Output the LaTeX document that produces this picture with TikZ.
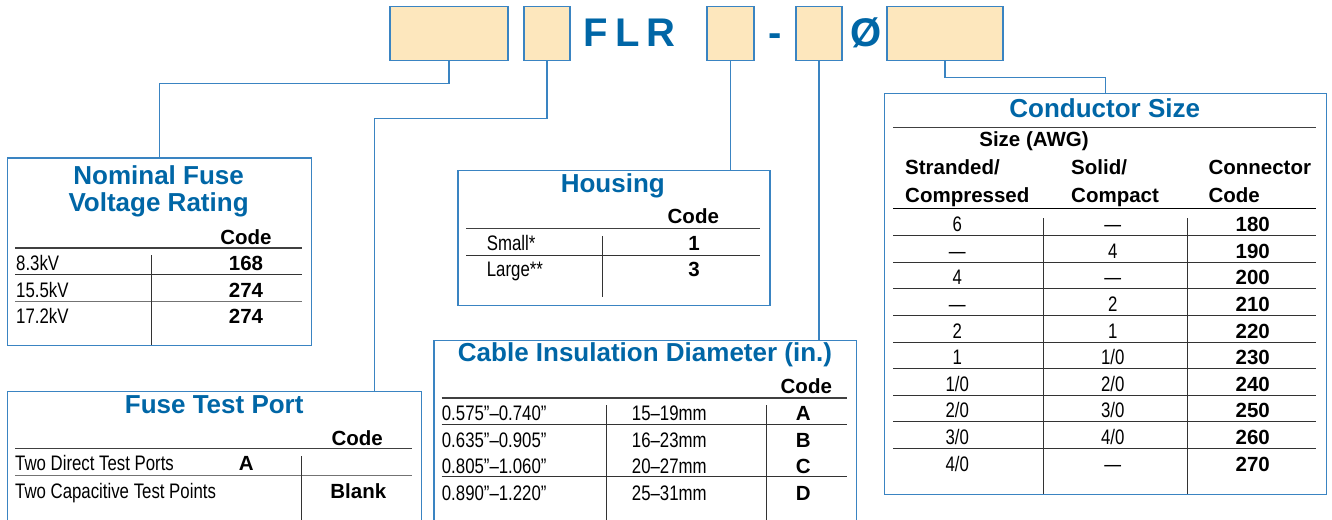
\documentclass[tikz,border=0pt]{standalone}
\usepackage{fontspec}
\setmainfont{Liberation Sans}
\newfontfamily\condfont{Liberation Sans}[FakeStretch=0.8]
\usetikzlibrary{calc}
\definecolor{fuseblue}{RGB}{0,102,166}
\definecolor{edgeblue}{RGB}{58,132,194}
\definecolor{peach}{RGB}{253,231,189}

\begin{document}
\begin{tikzpicture}[
  x=1pt,y=-1pt,
  codebox/.style={
    draw=edgeblue,
    fill=peach,
    line width=1.3pt,
    minimum height=54pt,
    inner sep=0pt
  },
  frame/.style={
    draw=edgeblue,
    line width=1.3pt,
    anchor=north west,
    inner sep=0pt
  },
  link/.style={draw=edgeblue,line width=1.3pt},
  ttl/.style={font=\bfseries\fontsize{26}{28}\selectfont,text=fuseblue,inner sep=0pt,anchor=base},
  big/.style={font=\bfseries\fontsize{40}{42}\selectfont,text=fuseblue,inner sep=0pt,anchor=base},
  hd/.style={font=\bfseries\fontsize{20.5}{22}\selectfont,inner sep=0pt,anchor=base},
  hdl/.style={hd,anchor=base west},
  val/.style={hd},
  lbl/.style={font=\condfont\fontsize{21}{22}\selectfont,inner sep=0pt,anchor=base west},
  lblc/.style={lbl,anchor=base},
  hrule/.style={draw=black!75,line width=1.6pt},
  rowrule/.style={draw=black!80,line width=1pt}
]
\useasboundingbox (0,0) rectangle (1332,519);

% catalog number boxes
\node[codebox,minimum width=118pt] (b1) at (449,33.7) {};
\node[codebox,minimum width=46pt] (b2) at (547,33.7) {};
\node[big] (flr) at (629.5,47) {F\kern7pt L\kern7pt R};
\node[codebox,minimum width=47pt] (b3) at (730.5,33.7) {};
\node[big] (dash) at (775.5,47) {-};
\node[codebox,minimum width=46pt] (b4) at (819,33.7) {};
\node[big] (oslash) at (866.5,47) {Ø};
\node[codebox,minimum width=116pt] (b5) at (945,33.7) {};

% table frames
\node[frame,minimum width=304.3pt,minimum height=187.7pt] (volt) at (6.7,157.3) {};
\node[frame,minimum width=414pt,minimum height=130.3pt] (ftp) at (6.7,390.7) {};
\node[frame,minimum width=312pt,minimum height=135pt] (hous) at (457.3,170) {};
\node[frame,minimum width=422.7pt,minimum height=181pt] (cab) at (433.3,340) {};
\node[frame,minimum width=441.7pt,minimum height=401.3pt] (cond) at (884,92.7) {};

% connectors
\draw[link] (b1.south) -- ++(0,22.3) -| (volt.north);
\draw[link] (b2.south) -- ++(0,57.3) -| ($(ftp.north east)+(-47.4,0)$);
\draw[link] (b3.south) -- (b3.south |- hous.north);
\draw[link] (b4.south) -- (b4.south |- cab.north);
\draw[link] (b5.south) -- ++(0,16) -| (cond.north);

% nominal fuse voltage rating
\node[ttl] (voltA) at (158.6,184.3) {Nominal Fuse};
\node[ttl] (voltB) at (158.6,211.7) {Voltage Rating};
\node[hd] (voltcode) at (246,244) {Code};
\draw[hrule] (15,247.7) -- (301.7,247.7);
\draw[rowrule] (15,274.3) -- (301.7,274.3);
\draw[rowrule,draw=black!55] (15,301) -- (301.7,301);
\draw[rowrule] (151.7,255) -- (151.7,345);
\foreach \y/\kv/\c in {270.7/8.3kV/168,297/15.5kV/274,323.3/17.2kV/274}{
  \node[lbl] at (16,\y) {\kv};
  \node[val] at (246,\y) {\c};
}

% fuse test port
\node[ttl] (ftpt) at (214.2,413.3) {Fuse Test Port};
\node[hd] (ftpcode) at (357.2,445) {Code};
\draw[hrule] (15,448.3) -- (412.3,448.3);
\draw[rowrule,draw=black!55] (15,475) -- (412.3,475);
\draw[rowrule] (301.7,456) -- (301.7,521);
\node[lbl] at (15,470.7) {Two Direct Test Ports};
\node[val] at (246.3,470.7) {A};
\node[lbl] at (15,498.3) {Two Capacitive Test Points};
\node[val] at (358.3,498.3) {Blank};

% housing
\node[ttl] (houst) at (612.8,192.7) {Housing};
\node[hd] (houscode) at (693.3,223.3) {Code};
\draw[hrule] (466,228.3) -- (760,228.3);
\draw[rowrule] (466,255) -- (760,255);
\draw[rowrule] (602.7,236) -- (602.7,296.7);
\node[lbl] at (486.7,250.7) {Small*};
\node[val] at (694,250.7) {1};
\node[lbl] at (486.7,276.7) {Large**};
\node[val] at (694,276.7) {3};

% cable insulation diameter
\node[ttl] (cabt) at (645,361.7) {Cable Insulation Diameter (in.)};
\node[hd] (cabcode) at (806.3,393.3) {Code};
\draw[hrule] (441.7,397.7) -- (847.3,397.7);
\draw[rowrule] (441.7,424.3) -- (847.3,424.3);
\draw[rowrule] (441.7,476.7) -- (847.3,476.7);
\draw[rowrule] (606.7,405) -- (606.7,521);
\draw[rowrule] (766.7,405) -- (766.7,521);
\foreach \y/\dia/\mm/\c in {420.7/0.575”–0.740”/15–19mm/A,447.3/0.635”–0.905”/16–23mm/B,
    473.3/0.805”–1.060”/20–27mm/C,500/0.890”–1.220”/25–31mm/D}{
  \node[lbl] at (441.7,\y) {\dia};
  \node[lbl] at (631.7,\y) {\mm};
  \node[val] at (803.3,\y) {\c};
}

% conductor size
\node[ttl] (condt) at (1104.7,117.3) {Conductor Size};
\draw[hrule] (893.3,127.3) -- (1316,127.3);
\node[hd] (awg) at (1034,146.7) {Size (AWG)};
\node[hdl] at (905,174) {Stranded/};
\node[hdl] at (905,202.7) {Compressed};
\node[hdl] at (1071,174) {Solid/};
\node[hdl] at (1071,202.7) {Compact};
\node[hdl] at (1208.3,174) {Connector};
\node[hdl] at (1208.3,202.7) {Code};
\draw[hrule,draw=black] (893.3,208.3) -- (1316,208.3);
\draw[rowrule] (1043.3,218.3) -- (1043.3,494);
\draw[rowrule] (1187,218.3) -- (1187,494);
\foreach \k in {0,...,8}{
  \draw[rowrule] (893.3,235.7+26.6*\k) -- (1316,235.7+26.6*\k);
}
\foreach \str/\sol/\c [count=\i from 0] in {6/—/180,—/4/190,4/—/200,—/2/210,2/1/220,
    1/1\slash 0/230,1\slash 0/2\slash 0/240,2\slash 0/3\slash 0/250,3\slash 0/4\slash 0/260,4\slash 0/—/270}{
  \node[lblc] at (957.3,231.7+26.6*\i) {\str};
  \node[lblc] at (1112.7,231.7+26.6*\i) {\sol};
  \node[val] at (1252.7,231.7+26.6*\i) {\c};
}
\end{tikzpicture}
\end{document}
